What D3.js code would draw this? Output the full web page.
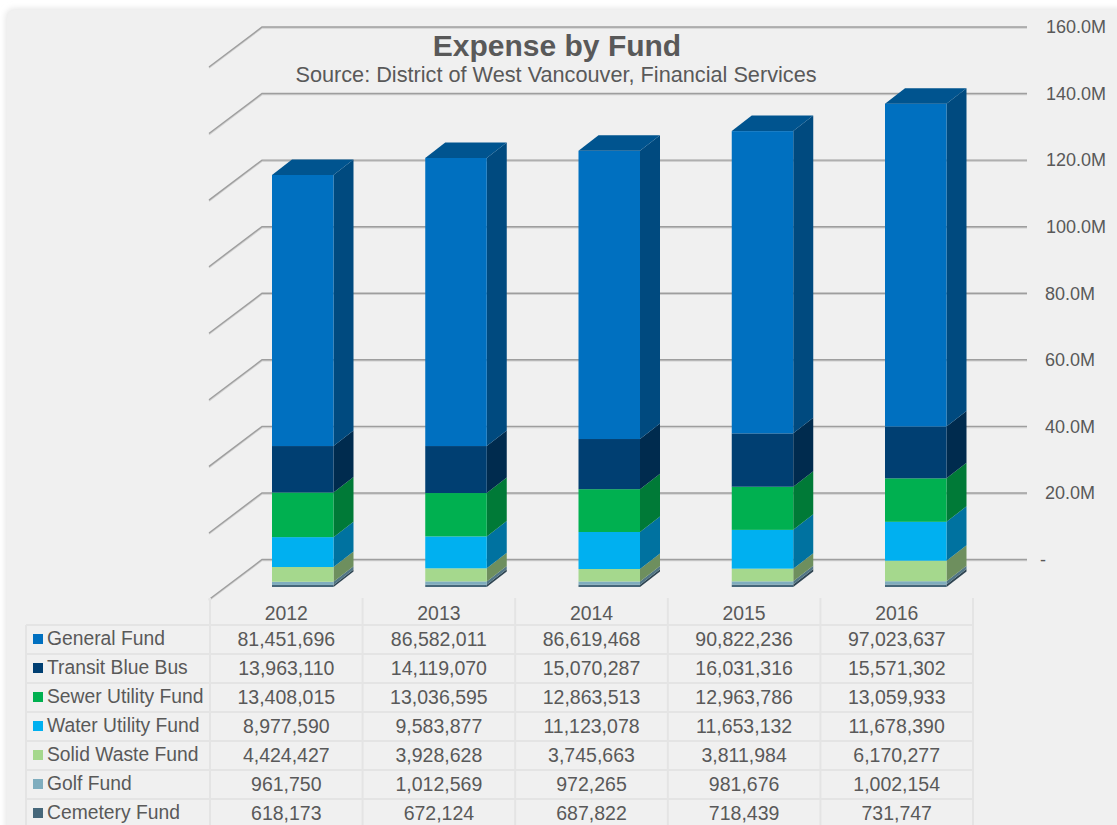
<!DOCTYPE html>
<html><head><meta charset="utf-8">
<script src="https://cdn.jsdelivr.net/npm/d3@7/dist/d3.min.js"></script>
<style>html,body{margin:0;padding:0;background:#fff;overflow:hidden}text{font-family:"Liberation Sans",Arial,sans-serif;fill:#595959}</style>
</head><body><div id="c"></div>
<script>
const years = ["2012","2013","2014","2015","2016"];
const generalFund = [81451696,86582011,86619468,90822236,97023637];
const transitBlueBus = [13963110,14119070,15070287,16031316,15571302];
const sewerUtilityFund = [13408015,13036595,12863513,12963786,13059933];
const waterUtilityFund = [8977590,9583877,11123078,11653132,11678390];
const solidWasteFund = [4424427,3928628,3745663,3811984,6170277];
const golfFund = [961750,1012569,972265,981676,1002154];
const cemeteryFund = [618173,672124,687822,718439,731747];
const seriesNames = ["General Fund","Transit Blue Bus","Sewer Utility Fund","Water Utility Fund","Solid Waste Fund","Golf Fund","Cemetery Fund"];
const seriesValues = [generalFund,transitBlueBus,sewerUtilityFund,waterUtilityFund,solidWasteFund,golfFund,cemeteryFund];
const frontColors = ["#0070C0","#003F72","#00B050","#00B0F0","#A5D88D","#7FADBE","#46677A"];
const sideColors = ["#004A7F","#002B4E","#007A37","#0072A0","#6E8F5E","#527685","#2F4552"];
const topColor = "#00548F";
const tickValues = [0,20,40,60,80,100,120,140,160];

const W=1117,H=825;
const svg=d3.select("#c").append("svg").attr("width",W).attr("height",H).style("display","block");
const defs=svg.append("defs");
const f=defs.append("filter").attr("id","sh").attr("x","-5%").attr("y","-5%").attr("width","110%").attr("height","110%");
f.append("feGaussianBlur").attr("stdDeviation",3);
svg.append("rect").attr("x",6).attr("y",9).attr("width",1130).attr("height",840).attr("rx",8).attr("fill","#e2e2e2").attr("filter","url(#sh)");
svg.append("rect").attr("x",7).attr("y",10).attr("width",1130).attr("height",840).attr("rx",8).attr("fill","#F0F0F0");

// scales
const y=d3.scaleLinear().domain([0,160]).range([559.5,27]);
const tableX=d3.scaleBand().domain(years).range([210,973]);
const barX=d3.scalePoint().domain(years).range([272,885]);
const wallDX=-53, wallDY=40;            // floor depth
const barDX=20, barDY=-15.5;            // bar depth
const barOffsetY=27.5, barW=61.5;

// grid + axis
const gridRight=1027, wallX=262;
const grid=svg.append("g");
tickValues.forEach(t=>{
  const yy=y(t);
  grid.append("polyline").attr("points",[[wallX+wallDX,yy+wallDY+1],[wallX,yy+1],[gridRight,yy+1]].join(" "))
    .attr("fill","none").attr("stroke","#D0D0D0").attr("stroke-width",1.5);
  grid.append("polyline").attr("points",[[wallX+wallDX,yy+wallDY],[wallX,yy],[gridRight,yy]].join(" "))
    .attr("fill","none").attr("stroke","#9E9E9E").attr("stroke-width",1.4);
});
const axis=d3.axisRight(y).tickValues(tickValues).tickSize(0).tickPadding(0)
  .tickFormat(d=>d===0?"-":d3.format(".1f")(d)+"M");
const ag=svg.append("g").attr("transform",`translate(1046,0)`).call(axis);
ag.select(".domain").remove();
ag.selectAll("text").attr("font-size",18).attr("x",d=>d===0?-6:(d<100?-1:0)).style("fill","#595959");

// bars
const bars=svg.append("g");
years.forEach((yr,i)=>{
  let cum=0;
  const x0=barX(yr), x1=x0+barW;
  const layers=seriesValues.map((s,k)=>({k,v:s[i]/1e6})).reverse();
  layers.forEach(l=>{
    const yb=y(cum)+barOffsetY, yt=y(cum+l.v)+barOffsetY;
    cum+=l.v;
    bars.append("polygon").attr("fill",sideColors[l.k])
      .attr("points",[[x1,yb],[x1+barDX,yb+barDY],[x1+barDX,yt+barDY],[x1,yt]].join(" "));
    bars.append("rect").attr("x",x0).attr("y",yt).attr("width",barW).attr("height",yb-yt).attr("fill",frontColors[l.k]);
    if(l.k===0){
      bars.append("polygon").attr("fill",topColor)
        .attr("points",[[x0,yt],[x0+barDX,yt+barDY],[x1+barDX,yt+barDY],[x1,yt]].join(" "));
    }
  });
});

// title
svg.append("text").attr("x",557).attr("y",56).attr("text-anchor","middle").attr("font-size",30).attr("font-weight","bold").text("Expense by Fund");
svg.append("text").attr("x",556).attr("y",82).attr("text-anchor","middle").attr("font-size",21.7).text("Source: District of West Vancouver, Financial Services");

// table
const rowY=d3.scaleBand().domain(seriesNames).range([625,828]);
const tbl=svg.append("g").attr("stroke","#E4E4E4").attr("stroke-width",2);
const edges=[210,...years.map(d=>tableX(d)+tableX.bandwidth())];
edges.forEach(x=>tbl.append("line").attr("x1",x).attr("x2",x).attr("y1",598).attr("y2",825));
tbl.append("line").attr("x1",26).attr("x2",26).attr("y1",625).attr("y2",825);
[...seriesNames.map(n=>rowY(n)),828].forEach(yy=>tbl.append("line").attr("x1",26).attr("x2",973).attr("y1",yy).attr("y2",yy));
const fmt=d3.format(",");
years.forEach((yr,i)=>{
  svg.append("text").attr("x",tableX(yr)+tableX.bandwidth()/2).attr("y",620).attr("text-anchor","middle").attr("font-size",19.4).text(yr);
});
seriesNames.forEach((n,k)=>{
  const r=rowY(n);
  svg.append("rect").attr("x",33).attr("y",r+9).attr("width",10).attr("height",10).attr("fill",frontColors[k]);
  svg.append("text").attr("x",47).attr("y",r+20).attr("font-size",19.3).text(n);
  years.forEach((yr,i)=>{
    svg.append("text").attr("x",tableX(yr)+tableX.bandwidth()/2).attr("y",r+21).attr("text-anchor","middle").attr("font-size",19.5).text(fmt(seriesValues[k][i]));
  });
});
</script></body></html>
